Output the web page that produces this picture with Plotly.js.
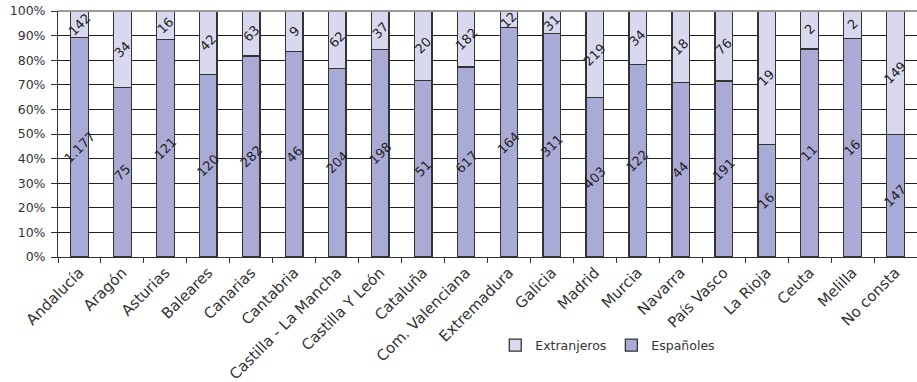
<!DOCTYPE html>
<html>
<head>
<meta charset="utf-8">
<script src="https://cdn.plot.ly/plotly-3.0.1.min.js"></script>
<style>html,body{margin:0;padding:0;background:#fff;}#chart{width:917px;height:382px;}</style>
</head>
<body>
<div id="chart"></div>
<script>
const categories = ["Andalucía","Aragón","Asturias","Baleares","Canarias","Cantabria","Castilla - La Mancha","Castilla Y León","Cataluña","Com. Valenciana","Extremadura","Galicia","Madrid","Murcia","Navarra","País Vasco","La Rioja","Ceuta","Melilla","No consta"];
const espanoles = [1177,75,121,120,282,46,204,198,51,617,164,311,403,122,44,191,16,11,16,147];
const extranjeros = [142,34,16,42,63,9,62,37,20,182,12,31,219,34,18,76,19,2,2,149];
const espLabels = ["1.177","75","121","120","282","46","204","198","51","617","164","311","403","122","44","191","16","11","16","147"];
const extLabels = ["142","34","16","42","63","9","62","37","20","182","12","31","219","34","18","76","19","2","2","149"];

const FONT = "DejaVu Sans, sans-serif";
const traces = [
  {type: "bar", x: categories, y: espanoles, name: "Españoles", hoverinfo: "skip",
   marker: {color: "#aaaad6", line: {color: "#333", width: 1.3}}},
  {type: "bar", x: categories, y: extranjeros, name: "Extranjeros", hoverinfo: "skip",
   marker: {color: "#d8d8ee", line: {color: "#333", width: 1.3}}}
];

// labels centred in each segment (positions derived from the data)
const annotations = [];
categories.forEach((c, i) => {
  const tot = espanoles[i] + extranjeros[i];
  const pe = espanoles[i] / tot * 100;
  annotations.push({x: c, y: pe / 2, xref: "x", yref: "y", text: espLabels[i], showarrow: false,
    textangle: -45, font: {family: FONT, size: 13, color: "#222"}});
  annotations.push({x: c, y: pe + (100 - pe) / 2, xref: "x", yref: "y", text: extLabels[i], showarrow: false,
    textangle: -45, font: {family: FONT, size: 13, color: "#222"}});
});

const layout = {
  width: 917, height: 382,
  margin: {l: 58, r: 0, t: 11, b: 125},
  barmode: "stack", barnorm: "percent", bargap: 0.59,
  paper_bgcolor: "#fff", plot_bgcolor: "#fff",
  font: {family: FONT, size: 12, color: "#333"},
  showlegend: true,
  legend: {orientation: "h", x: 0.64, xanchor: "center", y: -0.36, yanchor: "middle",
           traceorder: "reversed", itemwidth: 30, font: {family: FONT, size: 12.5, color: "#333"}, bgcolor: "rgba(0,0,0,0)"},
  xaxis: {type: "category", tickangle: -45, ticks: "outside", tickson: "boundaries", ticklen: 5,
          tickcolor: "#333", showline: true, linecolor: "#333", linewidth: 1, showgrid: false,
          tickfont: {family: FONT, size: 15, color: "#333"}},
  yaxis: {range: [0, 100], dtick: 10, ticksuffix: "%", ticks: "outside", ticklen: 6, tickcolor: "#333",
          ticklabelstandoff: 3,
          showline: true, linecolor: "#333", linewidth: 1, showgrid: true, gridcolor: "#222", gridwidth: 1,
          zeroline: false, tickfont: {family: FONT, size: 12.5, color: "#333"}},
  annotations: annotations,
  shapes: [{type: "line", xref: "paper", yref: "paper", x0: 0, x1: 1, y0: 1, y1: 1,
            line: {color: "#9a9a9a", width: 2}, layer: "above"}]
};
Plotly.newPlot("chart", traces, layout, {displayModeBar: false, staticPlot: true});
</script>
</body>
</html>
